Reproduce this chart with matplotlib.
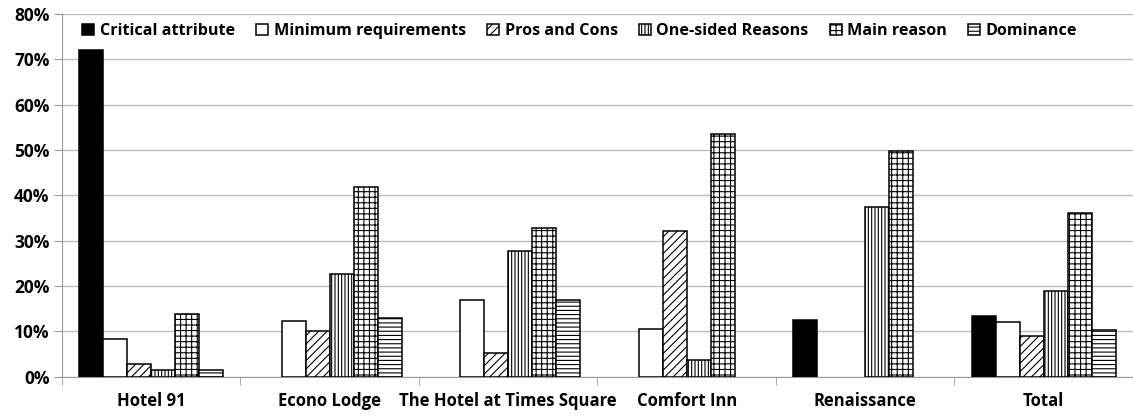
import matplotlib
matplotlib.use("Agg")
import matplotlib.pyplot as plt
import numpy as np
from matplotlib.ticker import PercentFormatter

plt.rcParams['font.family'] = ['Open Sans', 'DejaVu Sans']
plt.rcParams['font.weight'] = 'bold'
plt.rcParams['hatch.linewidth'] = 0.8

categories = ["Hotel 91", "Econo Lodge", "The Hotel at Times Square",
              "Comfort Inn", "Renaissance", "Total"]
series_names = ["Critical attribute", "Minimum requirements", "Pros and Cons",
                "One-sided Reasons", "Main reason", "Dominance"]

critical_attribute = [72.1, 0, 0, 0, 12.5, 13.4]
minimum_requirements = [8.4, 12.4, 17.0, 10.6, 0, 12.2]
pros_and_cons = [2.8, 10.1, 5.3, 32.1, 0, 9.0]
one_sided_reasons = [1.4, 22.6, 27.7, 3.6, 37.4, 19.0]
main_reason = [13.9, 41.8, 32.8, 53.5, 49.8, 36.1]
dominance = [1.4, 12.9, 17.0, 0, 0, 10.3]

series = [critical_attribute, minimum_requirements, pros_and_cons,
          one_sided_reasons, main_reason, dominance]
faces = ["black", "white", "white", "white", "white", "white"]
hatches = [None, None, "////", "|||||", "+++", "----"]

fig = plt.figure(figsize=(11.33, 4.15), dpi=100)
ax = fig.add_axes([0.0547, 0.092, 0.9453, 0.874])

x = np.arange(len(categories))
width = 0.1345
for i, (vals, fc, h, name) in enumerate(zip(series, faces, hatches, series_names)):
    offs = (i - 2.5) * width
    vals = np.asarray(vals, dtype=float)
    # zero shares get no bar at all (no outline along the baseline)
    vals = np.where(vals > 0, vals, np.nan)
    ax.bar(x + offs, vals, width, color=fc, edgecolor="black", hatch=h,
           linewidth=1.1, label=name, zorder=3)

ax.set_xlim(-0.5, len(categories) - 0.5)
ax.set_ylim(0, 80)
ax.set_yticks(np.arange(0, 81, 10))
ax.yaxis.set_major_formatter(PercentFormatter(decimals=0))
ax.set_xticks(x)
ax.set_xticklabels(categories)
ax.set_xticks(np.arange(-0.5, len(categories), 1), minor=True)

ax.grid(axis="y", color="#bdbdbd", linewidth=1.0, zorder=0)
for s in ["top", "right"]:
    ax.spines[s].set_visible(False)
ax.spines["left"].set_color("#9a9a9a")
ax.spines["bottom"].set_color("#9a9a9a")
ax.tick_params(axis="y", length=6, color="#9a9a9a", labelsize=12.5, pad=3)
ax.tick_params(axis="x", which="major", length=0, labelsize=12, pad=11)
ax.tick_params(axis="x", which="minor", length=6, color="#9a9a9a")

leg = ax.legend(loc="upper left", bbox_to_anchor=(0.01, 1.002), ncol=6,
                frameon=False, fontsize=11.6, handlelength=0.75,
                handleheight=0.75, handletextpad=0.35, columnspacing=1.3,
                borderaxespad=0.2)

fig.savefig("out.png", dpi=100)
